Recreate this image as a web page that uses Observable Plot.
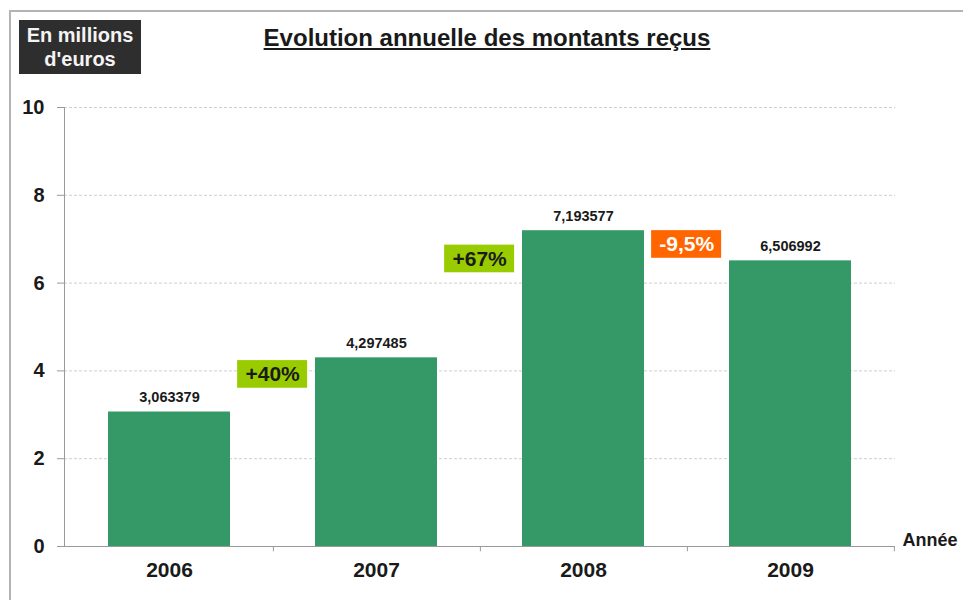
<!DOCTYPE html>
<html>
<head>
<meta charset="utf-8">
<script src="https://cdn.jsdelivr.net/npm/d3@7"></script>
<script src="https://cdn.jsdelivr.net/npm/@observablehq/plot@0.6"></script>
<style>
  body { margin: 0; background: #fff; font-family: "Liberation Sans", Arial, sans-serif; }
  #wrap { position: relative; width: 963px; height: 600px; overflow: hidden; }
  #border { position: absolute; left: 9px; top: 10px; width: 970px; height: 600px;
            border-top: 2px solid #b4b4b4; border-left: 2px solid #b4b4b4; }
  #unit { position: absolute; left: 19px; top: 20px; width: 122px; height: 54px;
          background: #2e2e2e; color: #f4f4f4; font-weight: bold; font-size: 20px;
          line-height: 24px; text-align: center; box-sizing: border-box; padding-top: 3px;
          white-space: nowrap; }
  #title { position: absolute; left: 12px; width: 950px; top: 24px; text-align: center;
           font-weight: bold; font-size: 24px; line-height: 28px; color: #1a1a1a;
           text-decoration: underline; }
  #chart { position: absolute; left: 0; top: 0; }
</style>
</head>
<body>
<div id="wrap">
  <div id="chart"></div>
  <div id="border"></div>
  <div id="unit">En millions<br>d'euros</div>
  <div id="title">Evolution annuelle des montants reçus</div>
</div>
<script>
// ---- data ----
const years = ["2006", "2007", "2008", "2009"];
const amounts = [3.063379, 4.297485, 7.193577, 6.506992];
const amountLabels = ["3,063379", "4,297485", "7,193577", "6,506992"];
const changeYears = ["2007", "2008", "2009"];
const changeLabels = ["+40%", "+67%", "-9,5%"];
const changeLevels = [3.92, 6.55, 6.88];
const changeFills = ["#99cc00", "#99cc00", "#ff6600"];
const changeTextColors = ["#1a1a1a", "#1a1a1a", "#ffffff"];
const yTicks = [0, 2, 4, 6, 8, 10];
const xAxisTitle = "Année";

// ---- tables ----
const bars = years.map((y, i) => ({year: y, value: amounts[i], label: amountLabels[i]}));
const changes = changeYears.map((y, i) => ({
  year: y, label: changeLabels[i], level: changeLevels[i],
  fill: changeFills[i], color: changeTextColors[i]
}));

const W = 963, H = 600;
const mL = 64, mR = 68, mT = 107, mB = 54;
const step = (W - mL - mR) / years.length;
const half = step / 2;
const boxHalfH = 0.315;

const chart = Plot.plot({
  width: W, height: H,
  marginLeft: mL, marginRight: mR, marginTop: mT, marginBottom: mB,
  style: {fontFamily: "'Liberation Sans', Arial, sans-serif", background: "transparent", overflow: "visible"},
  x: {type: "band", domain: years, paddingInner: 0.413, paddingOuter: 0.2065, align: 0.5},
  y: {domain: [0, 10]},
  marks: [
    Plot.ruleY(yTicks.filter(d => d > 0), {stroke: "#cfcfcf", strokeDasharray: "3,2"}),
    Plot.barY(bars, {x: "year", y: "value", fill: "#349966"}),
    Plot.text(bars, {x: "year", y: "value", text: "label", dy: -10, lineAnchor: "bottom",
      fontWeight: "bold", fontSize: 14.5, fill: "#1a1a1a"}),
    Plot.barY(changes, {x: "year", y1: d => d.level - boxHalfH, y2: d => d.level + boxHalfH,
      dx: -half, insetLeft: 26, insetRight: 26, fill: "fill"}),
    Plot.text(changes, {x: "year", y: "level", text: "label", dx: -half,
      fontWeight: "bold", fontSize: 21, fill: "color"}),
    Plot.frame({anchor: "left", stroke: "#999"}),
    Plot.ruleY([0], {stroke: "#999"}),
    Plot.ruleX(years, {x: d => d, dx: half, y1: 0, y2: -0.12, stroke: "#999"}),
    Plot.axisY({ticks: yTicks, tickSize: 7, tickPadding: 13, fontSize: 20, fontWeight: "bold",
      stroke: "#999", fill: "#1a1a1a", label: null}),
    Plot.axisX({tickSize: 0, tickPadding: 16, fontSize: 21, fontWeight: "bold", fill: "#1a1a1a", label: null}),
    Plot.text([xAxisTitle], {frameAnchor: "bottom-right", text: d => d, textAnchor: "start",
      lineAnchor: "middle", dx: 7, dy: -6,
      fontWeight: "bold", fontSize: 18, fill: "#1a1a1a"})
  ]
});
document.getElementById("chart").appendChild(chart);
</script>
</body>
</html>
